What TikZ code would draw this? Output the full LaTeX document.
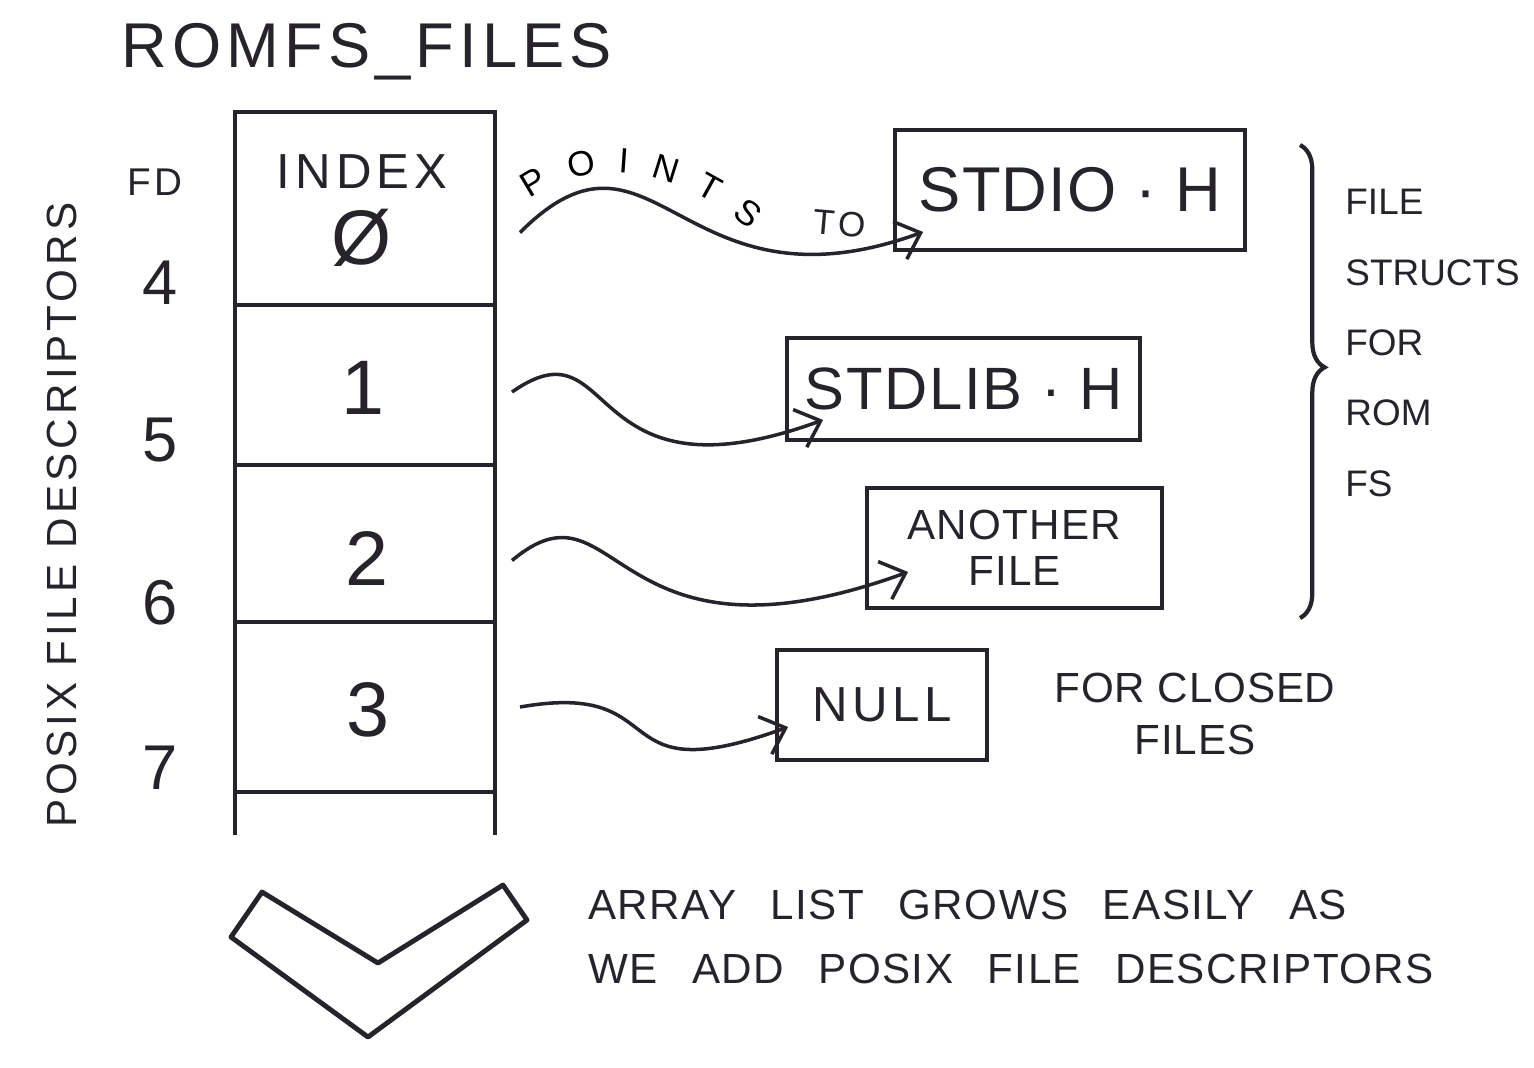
\documentclass[tikz,border=0pt]{standalone}
\usepackage{fontspec}
\newfontfamily\hand{Liberation Sans}
\newfontfamily\handwide{Liberation Sans}[WordSpace=2.6,LetterSpace=3.5]
\usetikzlibrary{positioning,arrows.meta}
\usetikzlibrary{decorations.text,decorations.pathreplacing}
\usepackage{xcolor}
\definecolor{ink}{RGB}{38,36,42}
% size, baselineskip, letter spacing
\newcommand\hf[3]{\hand\addfontfeatures{LetterSpace=#3}\fontsize{#1}{#2}\selectfont}
\newcommand\ptsfont{\hf{10}{10}{0}}

\begin{document}
\begin{tikzpicture}[
    f/.style={-{Straight Barb[length=2.2mm,width=4mm]},line width=1pt},%
    b/.style={draw,line width=1.1pt,inner sep=0pt},%
    c/.style={draw,line width=1.4pt,minimum width=2.6cm,inner sep=0pt,outer sep=0pt},%
    ink]
    \useasboundingbox (0,0) rectangle (15.34,-10.67);
    \node[font=\hf{18}{18}{8}] (title) at (3.67,-0.52) {ROMFS\_FILES};

    % the array
    \node[c,minimum height=1.93cm] (cell0) at (3.65,-2.085) {};
    \node[c,minimum height=1.6cm,below=0pt of cell0] (cell1) {};
    \node[c,minimum height=1.57cm,below=0pt of cell1] (cell2) {};
    \node[c,minimum height=1.7cm,below=0pt of cell2] (cell3) {};
    \draw[line width=1.4pt] (cell3.south west) -- ++(0,-0.43) (cell3.south east) -- ++(0,-0.43);
    \node[font=\hf{14}{14}{10}] (index) at (3.62,-1.72) {INDEX};
    \node[font=\hf{22}{22}{0}] (nil) at (3.62,-2.38) {Ø};
    \node[font=\hf{22}{22}{0}] (one) at (3.63,-3.88) {1};
    \node[font=\hf{22}{22}{0}] (two) at (3.67,-5.58) {2};
    \node[font=\hf{22}{22}{0}] (three) at (3.68,-7.10) {3};

    % file descriptors
    \node[font=\hf{11}{11}{10}] (fd) at (1.55,-1.82) {FD};
    \foreach \n/\y in {4/2.83,5/4.40,6/6.03,7/7.68}
      \node[font=\hf{18}{18}{0}] (fd\n) at (1.60,-\y) {\n};
    \node[font=\hf{12}{12}{10},rotate=90] (posix) at (0.62,-5.15) {POSIX FILE DESCRIPTORS};

    % file structs
    \node[b,minimum width=3.5cm,minimum height=1.2cm,font=\hf{18}{18}{2}] (stdio) at (10.70,-1.90) {STDIO · H};
    \node[b,minimum width=3.53cm,minimum height=1.02cm,font=\hf{17}{17}{3}] (stdlib) at (9.635,-3.89) {STDLIB · H};
    \node[b,minimum width=2.95cm,minimum height=1.2cm,font=\hf{12}{13}{3},align=center] (another) at (10.145,-5.48) {ANOTHER\\FILE};
    \node[b,minimum width=2.1cm,minimum height=1.1cm,font=\hf{14}{14}{9}] (null) at (8.82,-7.05) {NULL};

    \draw[f] ([xshift=2.5mm,yshift=-2.4mm]cell0.east) to[out=45,in=200,out distance=1.9cm,in distance=2.6cm] ([xshift=3mm,yshift=2mm]stdio.south west);
    \draw[f] ([xshift=1.7mm,yshift=-0.7mm]cell1.east) to[out=35,in=200,out distance=1.3cm,in distance=2.6cm] ([xshift=3.8mm,yshift=2.2mm]stdlib.south west);
    \draw[f] ([xshift=1.7mm,yshift=-1.7mm]cell2.east) to[out=40,in=200,out distance=1.4cm,in distance=3.2cm] ([xshift=4.3mm,yshift=3.8mm]another.south west);
    \draw[f] ([xshift=2.5mm]cell3.east) to[out=10,in=200,out distance=1.6cm,in distance=2cm] ([xshift=1.3mm,yshift=3.5mm]null.south west);

    \path[decorate,decoration={text along path,text={|\ptsfont|POINTS},text align={fit to path}}] (5.30,-1.99) to[out=35,in=140] (7.50,-2.30);
    \node[font=\hf{10}{10}{12},rotate=-5] (to) at (8.40,-2.24) {TO};

    \draw[line width=1.2pt,decorate,decoration={brace,amplitude=7pt,aspect=0.47}] (13.00,-1.45) -- (13.00,-6.18);
    \node[font=\hf{10.5}{20}{0},align=left,anchor=west] (fsnote) at (13.33,-3.43) {FILE\\STRUCTS\\FOR\\ROM\\FS};
    \node[font=\hf{12}{15}{2},align=center] (closed) at (11.95,-7.14) {FOR CLOSED\\FILES};

    % grows downwards
    \draw[line width=1.4pt,line join=round] (2.31,-9.37) -- (2.62,-8.92) -- (3.78,-9.63) -- (5.03,-8.85) -- (5.27,-9.20) -- (3.68,-10.37) -- cycle;
    \node[font=\handwide\fontsize{12}{18}\selectfont,align=left,anchor=west] (grows) at (5.76,-9.37) {ARRAY LIST GROWS EASILY AS\\WE ADD POSIX FILE DESCRIPTORS};
\end{tikzpicture}
\end{document}
